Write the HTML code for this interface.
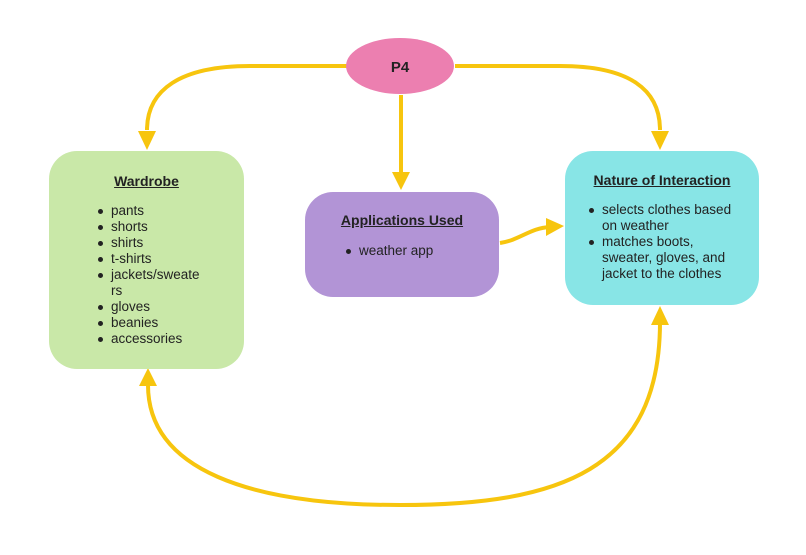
<!DOCTYPE html>
<html><head><style>
body{margin:0;width:806px;height:555px;background:#fff;position:relative;font-family:"Liberation Sans",sans-serif;color:#222;overflow:hidden}
.box{position:absolute;border-radius:28px;box-sizing:border-box}
h4{margin:0;text-align:center;font-size:14px;font-weight:bold;text-decoration:underline}
ul{margin:0;padding:0;list-style:none;font-size:13.5px;line-height:16px;position:absolute}
li{position:relative}
li::before{content:"";position:absolute;left:-13px;top:6px;width:5px;height:5px;border-radius:50%;background:#222}
</style></head><body>
<svg width="806" height="555" style="position:absolute;left:0;top:0">
<g fill="none" stroke="#f7c50e" stroke-width="4">
<path d="M347 66 L250 66 C180 66 147 90 147 130"/>
<path d="M455 66 L560 66 C630 66 660 90 660 130"/>
<path d="M401 95 L401 175"/>
<path d="M500 243 C520 240 530 228 550 227"/>
<path d="M148 385 C148 470 250 505 400 505 C560 505 660 470 660 322"/>
</g>
<g fill="#f7c50e">
<polygon points="138,131 156,131 147,150"/>
<polygon points="651,131 669,131 660,150"/>
<polygon points="392,172 410,172 401,190"/>
<polygon points="546,218 546,236 564,226"/>
<polygon points="139,386 157,386 148,368"/>
<polygon points="651,325 669,325 660,306"/>
</g>
<ellipse cx="400" cy="66" rx="54" ry="28" fill="#ec7fb0"/>
<text x="400" y="72" text-anchor="middle" font-family="Liberation Sans" font-weight="bold" font-size="15" fill="#222">P4</text>
</svg>
<div class="box" style="left:49px;top:151px;width:195px;height:218px;background:#c9e8a8;padding-top:22px">
<h4>Wardrobe</h4>
<ul style="left:62px;top:52px;width:90px"><li>pants</li><li>shorts</li><li>shirts</li><li>t-shirts</li><li>jackets/sweate<br>rs</li><li>gloves</li><li>beanies</li><li>accessories</li></ul>
</div>
<div class="box" style="left:305px;top:192px;width:194px;height:105px;background:#b294d6;padding-top:20px">
<h4>Applications Used</h4>
<ul style="left:54px;top:51px"><li>weather app</li></ul>
</div>
<div class="box" style="left:565px;top:151px;width:194px;height:154px;background:#88e5e6;padding-top:21px">
<h4>Nature of Interaction</h4>
<ul style="left:37px;top:51px;width:140px"><li>selects clothes based on weather</li><li>matches boots, sweater, gloves, and jacket to the clothes</li></ul>
</div>
</body></html>
